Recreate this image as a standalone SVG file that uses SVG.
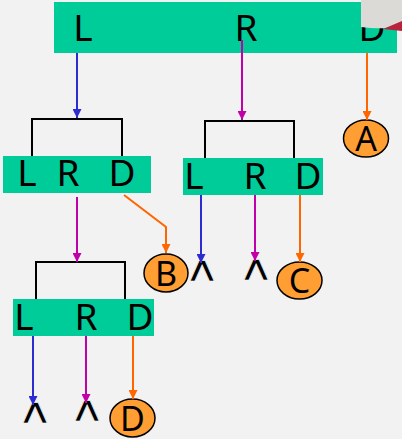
<svg xmlns="http://www.w3.org/2000/svg" width="402" height="439" viewBox="0 0 402 439">
<defs>
<style>
.box{fill:#00CC99}
.t{font-family:"Noto Sans","Liberation Sans",sans-serif;font-size:37px;fill:#000;text-anchor:middle}
.ct{font-family:"Noto Sans","Liberation Sans",sans-serif;font-size:34px;fill:#000;text-anchor:middle}
.nil{font-family:"DejaVu Sans",sans-serif;font-size:35px;fill:#000;stroke:#F2F2F2;stroke-width:0.6;text-anchor:middle}
.br{fill:none;stroke:#000;stroke-width:2}
.leaf{fill:#FF9E33;stroke:#000;stroke-width:1.5}
.cb{stroke:#2C2CD0;stroke-width:2;fill:none}
.cm{stroke:#C000A8;stroke-width:2;fill:none}
.co{stroke:#FF6600;stroke-width:2;fill:none}
</style>
<marker id="mb" viewBox="0 0 10 10" refX="10" refY="5" markerWidth="4.5" markerHeight="4.5" orient="auto"><path d="M0,0L10,5L0,10z" fill="#2C2CD0"/></marker>
<marker id="mm" viewBox="0 0 10 10" refX="10" refY="5" markerWidth="4.5" markerHeight="4.5" orient="auto"><path d="M0,0L10,5L0,10z" fill="#C000A8"/></marker>
<marker id="mo" viewBox="0 0 10 10" refX="10" refY="5" markerWidth="4.5" markerHeight="4.5" orient="auto"><path d="M0,0L10,5L0,10z" fill="#FF6600"/></marker>
</defs>
<rect width="402" height="439" fill="#F2F2F2"/>

<g id="root">
<rect class="box" x="54" y="2" width="343" height="51"/>
<text class="t" x="83" y="41">L</text>
<text class="t" x="246" y="41">R</text>
<text class="t" x="372" y="41">D</text>
</g>

<g id="nodeB">
<path class="br" d="M32,156V119H122V156"/>
<rect class="box" x="3" y="156" width="148" height="37"/>
<text class="t" x="27" y="186">L</text>
<text class="t" x="68" y="186">R</text>
<text class="t" x="122" y="186">D</text>
</g>

<g id="nodeC">
<path class="br" d="M205,158V121H294V158"/>
<rect class="box" x="183" y="158" width="140" height="37"/>
<text class="t" x="194" y="189">L</text>
<text class="t" x="255" y="189">R</text>
<text class="t" x="308" y="189">D</text>
</g>

<g id="nodeD">
<path class="br" d="M36,299V262H125V299"/>
<rect class="box" x="13" y="299" width="141" height="37"/>
<text class="t" x="24" y="330">L</text>
<text class="t" x="86" y="330">R</text>
<text class="t" x="140" y="330">D</text>
</g>

<g id="leafA"><ellipse class="leaf" cx="366" cy="138.5" rx="22.5" ry="18.5"/><text class="ct" x="366" y="151">A</text></g>
<g id="leafB"><ellipse class="leaf" cx="166" cy="273" rx="22" ry="19"/><text class="ct" x="166" y="285.5">B</text></g>
<g id="leafC"><ellipse class="leaf" cx="299.5" cy="280.5" rx="22.5" ry="18.5"/><text class="ct" x="299.5" y="293">C</text></g>
<g id="leafD"><ellipse class="leaf" cx="132.5" cy="418" rx="22.5" ry="19"/><text class="ct" x="132.5" y="430.5">D</text></g>

<g id="nil1"><text class="nil" transform="translate(202,281) scale(1.45,1)">∧</text></g>
<g id="nil2"><text class="nil" transform="translate(256,280) scale(1.45,1)">∧</text></g>
<g id="nil3"><text class="nil" transform="translate(35,423) scale(1.45,1)">∧</text></g>
<g id="nil4"><text class="nil" transform="translate(87,421) scale(1.45,1)">∧</text></g>

<g id="connectors">
<line class="cb" x1="77" y1="53" x2="77" y2="118" marker-end="url(#mb)"/>
<line class="cm" x1="242" y1="40" x2="242" y2="120" marker-end="url(#mm)"/>
<line class="co" x1="367" y1="53" x2="367" y2="120" marker-end="url(#mo)"/>
<line class="cm" x1="77" y1="197" x2="77" y2="262" marker-end="url(#mm)"/>
<path class="co" d="M124,195L166,227V253" marker-end="url(#mo)"/>
<line class="cb" x1="201" y1="195" x2="201" y2="263" marker-end="url(#mb)"/>
<line class="cm" x1="255" y1="195" x2="255" y2="261" marker-end="url(#mm)"/>
<line class="co" x1="300" y1="195" x2="300" y2="262" marker-end="url(#mo)"/>
<line class="cb" x1="33" y1="336" x2="33" y2="405" marker-end="url(#mb)"/>
<line class="cm" x1="86" y1="336" x2="86" y2="403" marker-end="url(#mm)"/>
<line class="co" x1="133" y1="336" x2="133" y2="399" marker-end="url(#mo)"/>
</g>

<g id="corner">
<path d="M361,0H402V22L388,28Q375,29 361,27Z" fill="#DCDAD6"/>
<path d="M383,29L402,21V31Z" fill="#B8223C"/>
</g>
</svg>
